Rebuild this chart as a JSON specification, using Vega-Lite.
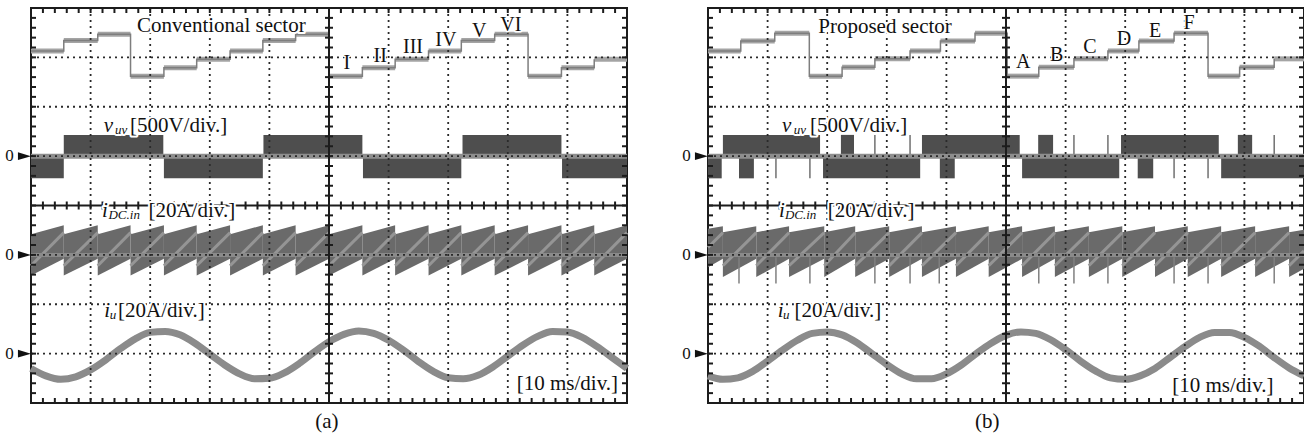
{
"$schema":"https://vega.github.io/schema/vega-lite/v6.json",
"background":"white",
"padding":{"left":4,"top":3,"right":0,"bottom":0},
"bounds":"flush",
"spacing":81,
"config":{"view":{"stroke":"#1c1c1c","strokeWidth":2}},
"datasets":{
"one":[{"z":0}],
"gx":[{"v":1},{"v":2},{"v":3},{"v":4},{"v":6},{"v":7},{"v":8},{"v":9}],
"gy":[{"v":1},{"v":2},{"v":3},{"v":5},{"v":6},{"v":7}],
"tk":[
{"x":0.2,"y":0,"o":"b"},{"x":0.4,"y":0,"o":"b"},{"x":0.6,"y":0,"o":"b"},{"x":0.8,"y":0,"o":"b"},{"x":1,"y":0,"o":"b"},{"x":1.2,"y":0,"o":"b"},{"x":1.4,"y":0,"o":"b"},{"x":1.6,"y":0,"o":"b"},{"x":1.8,"y":0,"o":"b"},{"x":2,"y":0,"o":"b"},{"x":2.2,"y":0,"o":"b"},{"x":2.4,"y":0,"o":"b"},{"x":2.6,"y":0,"o":"b"},{"x":2.8,"y":0,"o":"b"},{"x":3,"y":0,"o":"b"},{"x":3.2,"y":0,"o":"b"},{"x":3.4,"y":0,"o":"b"},{"x":3.6,"y":0,"o":"b"},{"x":3.8,"y":0,"o":"b"},{"x":4,"y":0,"o":"b"},{"x":4.2,"y":0,"o":"b"},{"x":4.4,"y":0,"o":"b"},{"x":4.6,"y":0,"o":"b"},{"x":4.8,"y":0,"o":"b"},{"x":5,"y":0,"o":"b"},{"x":5.2,"y":0,"o":"b"},{"x":5.4,"y":0,"o":"b"},{"x":5.6,"y":0,"o":"b"},{"x":5.8,"y":0,"o":"b"},{"x":6,"y":0,"o":"b"},{"x":6.2,"y":0,"o":"b"},{"x":6.4,"y":0,"o":"b"},{"x":6.6,"y":0,"o":"b"},{"x":6.8,"y":0,"o":"b"},{"x":7,"y":0,"o":"b"},{"x":7.2,"y":0,"o":"b"},{"x":7.4,"y":0,"o":"b"},{"x":7.6,"y":0,"o":"b"},{"x":7.8,"y":0,"o":"b"},{"x":8,"y":0,"o":"b"},{"x":8.2,"y":0,"o":"b"},{"x":8.4,"y":0,"o":"b"},{"x":8.6,"y":0,"o":"b"},{"x":8.8,"y":0,"o":"b"},{"x":9,"y":0,"o":"b"},{"x":9.2,"y":0,"o":"b"},{"x":9.4,"y":0,"o":"b"},{"x":9.6,"y":0,"o":"b"},{"x":9.8,"y":0,"o":"b"},
{"x":0.2,"y":8,"o":"t"},{"x":0.4,"y":8,"o":"t"},{"x":0.6,"y":8,"o":"t"},{"x":0.8,"y":8,"o":"t"},{"x":1,"y":8,"o":"t"},{"x":1.2,"y":8,"o":"t"},{"x":1.4,"y":8,"o":"t"},{"x":1.6,"y":8,"o":"t"},{"x":1.8,"y":8,"o":"t"},{"x":2,"y":8,"o":"t"},{"x":2.2,"y":8,"o":"t"},{"x":2.4,"y":8,"o":"t"},{"x":2.6,"y":8,"o":"t"},{"x":2.8,"y":8,"o":"t"},{"x":3,"y":8,"o":"t"},{"x":3.2,"y":8,"o":"t"},{"x":3.4,"y":8,"o":"t"},{"x":3.6,"y":8,"o":"t"},{"x":3.8,"y":8,"o":"t"},{"x":4,"y":8,"o":"t"},{"x":4.2,"y":8,"o":"t"},{"x":4.4,"y":8,"o":"t"},{"x":4.6,"y":8,"o":"t"},{"x":4.8,"y":8,"o":"t"},{"x":5,"y":8,"o":"t"},{"x":5.2,"y":8,"o":"t"},{"x":5.4,"y":8,"o":"t"},{"x":5.6,"y":8,"o":"t"},{"x":5.8,"y":8,"o":"t"},{"x":6,"y":8,"o":"t"},{"x":6.2,"y":8,"o":"t"},{"x":6.4,"y":8,"o":"t"},{"x":6.6,"y":8,"o":"t"},{"x":6.8,"y":8,"o":"t"},{"x":7,"y":8,"o":"t"},{"x":7.2,"y":8,"o":"t"},{"x":7.4,"y":8,"o":"t"},{"x":7.6,"y":8,"o":"t"},{"x":7.8,"y":8,"o":"t"},{"x":8,"y":8,"o":"t"},{"x":8.2,"y":8,"o":"t"},{"x":8.4,"y":8,"o":"t"},{"x":8.6,"y":8,"o":"t"},{"x":8.8,"y":8,"o":"t"},{"x":9,"y":8,"o":"t"},{"x":9.2,"y":8,"o":"t"},{"x":9.4,"y":8,"o":"t"},{"x":9.6,"y":8,"o":"t"},{"x":9.8,"y":8,"o":"t"},
{"x":0.2,"y":4,"o":"c"},{"x":0.4,"y":4,"o":"c"},{"x":0.6,"y":4,"o":"c"},{"x":0.8,"y":4,"o":"c"},{"x":1,"y":4,"o":"c"},{"x":1.2,"y":4,"o":"c"},{"x":1.4,"y":4,"o":"c"},{"x":1.6,"y":4,"o":"c"},{"x":1.8,"y":4,"o":"c"},{"x":2,"y":4,"o":"c"},{"x":2.2,"y":4,"o":"c"},{"x":2.4,"y":4,"o":"c"},{"x":2.6,"y":4,"o":"c"},{"x":2.8,"y":4,"o":"c"},{"x":3,"y":4,"o":"c"},{"x":3.2,"y":4,"o":"c"},{"x":3.4,"y":4,"o":"c"},{"x":3.6,"y":4,"o":"c"},{"x":3.8,"y":4,"o":"c"},{"x":4,"y":4,"o":"c"},{"x":4.2,"y":4,"o":"c"},{"x":4.4,"y":4,"o":"c"},{"x":4.6,"y":4,"o":"c"},{"x":4.8,"y":4,"o":"c"},{"x":5.2,"y":4,"o":"c"},{"x":5.4,"y":4,"o":"c"},{"x":5.6,"y":4,"o":"c"},{"x":5.8,"y":4,"o":"c"},{"x":6,"y":4,"o":"c"},{"x":6.2,"y":4,"o":"c"},{"x":6.4,"y":4,"o":"c"},{"x":6.6,"y":4,"o":"c"},{"x":6.8,"y":4,"o":"c"},{"x":7,"y":4,"o":"c"},{"x":7.2,"y":4,"o":"c"},{"x":7.4,"y":4,"o":"c"},{"x":7.6,"y":4,"o":"c"},{"x":7.8,"y":4,"o":"c"},{"x":8,"y":4,"o":"c"},{"x":8.2,"y":4,"o":"c"},{"x":8.4,"y":4,"o":"c"},{"x":8.6,"y":4,"o":"c"},{"x":8.8,"y":4,"o":"c"},{"x":9,"y":4,"o":"c"},{"x":9.2,"y":4,"o":"c"},{"x":9.4,"y":4,"o":"c"},{"x":9.6,"y":4,"o":"c"},{"x":9.8,"y":4,"o":"c"},
{"x":0,"y":0.2,"o":"l"},{"x":0,"y":0.4,"o":"l"},{"x":0,"y":0.6,"o":"l"},{"x":0,"y":0.8,"o":"l"},{"x":0,"y":1,"o":"l"},{"x":0,"y":1.2,"o":"l"},{"x":0,"y":1.4,"o":"l"},{"x":0,"y":1.6,"o":"l"},{"x":0,"y":1.8,"o":"l"},{"x":0,"y":2,"o":"l"},{"x":0,"y":2.2,"o":"l"},{"x":0,"y":2.4,"o":"l"},{"x":0,"y":2.6,"o":"l"},{"x":0,"y":2.8,"o":"l"},{"x":0,"y":3,"o":"l"},{"x":0,"y":3.2,"o":"l"},{"x":0,"y":3.4,"o":"l"},{"x":0,"y":3.6,"o":"l"},{"x":0,"y":3.8,"o":"l"},{"x":0,"y":4,"o":"l"},{"x":0,"y":4.2,"o":"l"},{"x":0,"y":4.4,"o":"l"},{"x":0,"y":4.6,"o":"l"},{"x":0,"y":4.8,"o":"l"},{"x":0,"y":5,"o":"l"},{"x":0,"y":5.2,"o":"l"},{"x":0,"y":5.4,"o":"l"},{"x":0,"y":5.6,"o":"l"},{"x":0,"y":5.8,"o":"l"},{"x":0,"y":6,"o":"l"},{"x":0,"y":6.2,"o":"l"},{"x":0,"y":6.4,"o":"l"},{"x":0,"y":6.6,"o":"l"},{"x":0,"y":6.8,"o":"l"},{"x":0,"y":7,"o":"l"},{"x":0,"y":7.2,"o":"l"},{"x":0,"y":7.4,"o":"l"},{"x":0,"y":7.6,"o":"l"},{"x":0,"y":7.8,"o":"l"},
{"x":10,"y":0.2,"o":"r"},{"x":10,"y":0.4,"o":"r"},{"x":10,"y":0.6,"o":"r"},{"x":10,"y":0.8,"o":"r"},{"x":10,"y":1,"o":"r"},{"x":10,"y":1.2,"o":"r"},{"x":10,"y":1.4,"o":"r"},{"x":10,"y":1.6,"o":"r"},{"x":10,"y":1.8,"o":"r"},{"x":10,"y":2,"o":"r"},{"x":10,"y":2.2,"o":"r"},{"x":10,"y":2.4,"o":"r"},{"x":10,"y":2.6,"o":"r"},{"x":10,"y":2.8,"o":"r"},{"x":10,"y":3,"o":"r"},{"x":10,"y":3.2,"o":"r"},{"x":10,"y":3.4,"o":"r"},{"x":10,"y":3.6,"o":"r"},{"x":10,"y":3.8,"o":"r"},{"x":10,"y":4,"o":"r"},{"x":10,"y":4.2,"o":"r"},{"x":10,"y":4.4,"o":"r"},{"x":10,"y":4.6,"o":"r"},{"x":10,"y":4.8,"o":"r"},{"x":10,"y":5,"o":"r"},{"x":10,"y":5.2,"o":"r"},{"x":10,"y":5.4,"o":"r"},{"x":10,"y":5.6,"o":"r"},{"x":10,"y":5.8,"o":"r"},{"x":10,"y":6,"o":"r"},{"x":10,"y":6.2,"o":"r"},{"x":10,"y":6.4,"o":"r"},{"x":10,"y":6.6,"o":"r"},{"x":10,"y":6.8,"o":"r"},{"x":10,"y":7,"o":"r"},{"x":10,"y":7.2,"o":"r"},{"x":10,"y":7.4,"o":"r"},{"x":10,"y":7.6,"o":"r"},{"x":10,"y":7.8,"o":"r"},
{"x":5,"y":0.2,"o":"m"},{"x":5,"y":0.4,"o":"m"},{"x":5,"y":0.6,"o":"m"},{"x":5,"y":0.8,"o":"m"},{"x":5,"y":1,"o":"m"},{"x":5,"y":1.2,"o":"m"},{"x":5,"y":1.4,"o":"m"},{"x":5,"y":1.6,"o":"m"},{"x":5,"y":1.8,"o":"m"},{"x":5,"y":2,"o":"m"},{"x":5,"y":2.2,"o":"m"},{"x":5,"y":2.4,"o":"m"},{"x":5,"y":2.6,"o":"m"},{"x":5,"y":2.8,"o":"m"},{"x":5,"y":3,"o":"m"},{"x":5,"y":3.2,"o":"m"},{"x":5,"y":3.4,"o":"m"},{"x":5,"y":3.6,"o":"m"},{"x":5,"y":3.8,"o":"m"},{"x":5,"y":4.2,"o":"m"},{"x":5,"y":4.4,"o":"m"},{"x":5,"y":4.6,"o":"m"},{"x":5,"y":4.8,"o":"m"},{"x":5,"y":5,"o":"m"},{"x":5,"y":5.2,"o":"m"},{"x":5,"y":5.4,"o":"m"},{"x":5,"y":5.6,"o":"m"},{"x":5,"y":5.8,"o":"m"},{"x":5,"y":6,"o":"m"},{"x":5,"y":6.2,"o":"m"},{"x":5,"y":6.4,"o":"m"},{"x":5,"y":6.6,"o":"m"},{"x":5,"y":6.8,"o":"m"},{"x":5,"y":7,"o":"m"},{"x":5,"y":7.2,"o":"m"},{"x":5,"y":7.4,"o":"m"},{"x":5,"y":7.6,"o":"m"},{"x":5,"y":7.8,"o":"m"}],
"zm":[{"y":5,"xt":-0.36,"xa":-0.11},{"y":3,"xt":-0.36,"xa":-0.11},{"y":1,"xt":-0.36,"xa":-0.11}],
"sec":[
{"p":"a","x":0,"x2":0.55,"y":7.13},{"p":"a","x":0.55,"x2":1.12,"y":7.34},{"p":"a","x":1.12,"x2":1.67,"y":7.47},{"p":"a","x":1.67,"x2":2.23,"y":6.62},{"p":"a","x":2.23,"x2":2.78,"y":6.79},{"p":"a","x":2.78,"x2":3.34,"y":6.96},{"p":"a","x":3.34,"x2":3.89,"y":7.13},{"p":"a","x":3.89,"x2":4.44,"y":7.34},{"p":"a","x":4.44,"x2":5.0,"y":7.47},{"p":"a","x":5.0,"x2":5.56,"y":6.62},{"p":"a","x":5.56,"x2":6.11,"y":6.79},{"p":"a","x":6.11,"x2":6.67,"y":6.96},{"p":"a","x":6.67,"x2":7.22,"y":7.13},{"p":"a","x":7.22,"x2":7.78,"y":7.34},{"p":"a","x":7.78,"x2":8.34,"y":7.47},{"p":"a","x":8.34,"x2":8.9,"y":6.62},{"p":"a","x":8.9,"x2":9.45,"y":6.79},{"p":"a","x":9.45,"x2":10,"y":6.96},
{"p":"b","x":0,"x2":0.55,"y":7.13},{"p":"b","x":0.55,"x2":1.12,"y":7.33},{"p":"b","x":1.12,"x2":1.7,"y":7.49},{"p":"b","x":1.7,"x2":2.25,"y":6.62},{"p":"b","x":2.25,"x2":2.8,"y":6.8},{"p":"b","x":2.8,"x2":3.39,"y":6.97},{"p":"b","x":3.39,"x2":3.9,"y":7.13},{"p":"b","x":3.9,"x2":4.48,"y":7.33},{"p":"b","x":4.48,"x2":5.02,"y":7.49},{"p":"b","x":5.02,"x2":5.55,"y":6.62},{"p":"b","x":5.55,"x2":6.14,"y":6.8},{"p":"b","x":6.14,"x2":6.71,"y":6.97},{"p":"b","x":6.71,"x2":7.23,"y":7.13},{"p":"b","x":7.23,"x2":7.82,"y":7.33},{"p":"b","x":7.82,"x2":8.39,"y":7.49},{"p":"b","x":8.39,"x2":8.92,"y":6.62},{"p":"b","x":8.92,"x2":9.5,"y":6.8},{"p":"b","x":9.5,"x2":10,"y":6.97}],
"vuv":[
{"p":"a","x":0.55,"x2":2.22,"y":5.0,"y2":5.43},{"p":"a","x":3.9,"x2":5.56,"y":5.0,"y2":5.43},{"p":"a","x":7.24,"x2":8.9,"y":5.0,"y2":5.43},
{"p":"a","x":0,"x2":0.55,"y":4.55,"y2":5.0},{"p":"a","x":2.23,"x2":3.89,"y":4.55,"y2":5.0},{"p":"a","x":5.57,"x2":7.22,"y":4.55,"y2":5.0},{"p":"a","x":8.91,"x2":10,"y":4.55,"y2":5.0},
{"p":"b","x":0.25,"x2":1.88,"y":5.0,"y2":5.43},{"p":"b","x":2.23,"x2":2.45,"y":5.0,"y2":5.43},{"p":"b","x":3.59,"x2":5.23,"y":5.0,"y2":5.43},{"p":"b","x":5.54,"x2":5.79,"y":5.0,"y2":5.43},{"p":"b","x":6.93,"x2":8.57,"y":5.0,"y2":5.43},{"p":"b","x":8.89,"x2":9.13,"y":5.0,"y2":5.43},
{"p":"b","x":0,"x2":0.23,"y":4.55,"y2":5.0},{"p":"b","x":0.52,"x2":0.77,"y":4.55,"y2":5.0},{"p":"b","x":1.93,"x2":3.56,"y":4.55,"y2":5.0},{"p":"b","x":3.89,"x2":4.14,"y":4.55,"y2":5.0},{"p":"b","x":5.27,"x2":6.9,"y":4.55,"y2":5.0},{"p":"b","x":7.21,"x2":7.47,"y":4.55,"y2":5.0},{"p":"b","x":8.61,"x2":10,"y":4.55,"y2":5.0}],
"vsp":[
{"p":"b","x":2.8,"y":5.0,"y2":5.43},{"p":"b","x":3.39,"y":5.0,"y2":5.43},{"p":"b","x":6.14,"y":5.0,"y2":5.43},{"p":"b","x":6.71,"y":5.0,"y2":5.43},{"p":"b","x":9.5,"y":5.0,"y2":5.43},
{"p":"b","x":1.14,"y":4.55,"y2":5.0},{"p":"b","x":1.71,"y":4.55,"y2":5.0},{"p":"b","x":7.82,"y":4.55,"y2":5.0},{"p":"b","x":8.39,"y":4.55,"y2":5.0}],
"isp":[
{"p":"b","x":0.52,"y":2.42,"y2":2.95},{"p":"b","x":1.14,"y":2.42,"y2":2.95},{"p":"b","x":1.71,"y":2.42,"y2":2.95},{"p":"b","x":2.8,"y":2.42,"y2":2.95},{"p":"b","x":3.39,"y":2.42,"y2":2.95},{"p":"b","x":3.88,"y":2.42,"y2":2.95},{"p":"b","x":5.55,"y":2.42,"y2":2.95},{"p":"b","x":6.14,"y":2.42,"y2":2.95},{"p":"b","x":6.71,"y":2.42,"y2":2.95},{"p":"b","x":7.82,"y":2.42,"y2":2.95},{"p":"b","x":8.39,"y":2.42,"y2":2.95},{"p":"b","x":9.5,"y":2.42,"y2":2.95}],
"idc":[
{"p":"a","k":0,"x":0,"t":3.42,"b":2.58,"d":2.78},{"p":"a","k":0,"x":0.55,"t":3.6,"b":2.92,"d":3.45},
{"p":"a","k":1,"x":0.55,"t":3.42,"b":2.58,"d":2.78},{"p":"a","k":1,"x":1.12,"t":3.6,"b":2.92,"d":3.45},
{"p":"a","k":2,"x":1.12,"t":3.42,"b":2.58,"d":2.78},{"p":"a","k":2,"x":1.67,"t":3.6,"b":2.92,"d":3.45},
{"p":"a","k":3,"x":1.67,"t":3.42,"b":2.58,"d":2.78},{"p":"a","k":3,"x":2.23,"t":3.6,"b":2.92,"d":3.45},
{"p":"a","k":4,"x":2.23,"t":3.42,"b":2.58,"d":2.78},{"p":"a","k":4,"x":2.78,"t":3.6,"b":2.92,"d":3.45},
{"p":"a","k":5,"x":2.78,"t":3.42,"b":2.58,"d":2.78},{"p":"a","k":5,"x":3.34,"t":3.6,"b":2.92,"d":3.45},
{"p":"a","k":6,"x":3.34,"t":3.42,"b":2.58,"d":2.78},{"p":"a","k":6,"x":3.89,"t":3.6,"b":2.92,"d":3.45},
{"p":"a","k":7,"x":3.89,"t":3.42,"b":2.58,"d":2.78},{"p":"a","k":7,"x":4.44,"t":3.6,"b":2.92,"d":3.45},
{"p":"a","k":8,"x":4.44,"t":3.42,"b":2.58,"d":2.78},{"p":"a","k":8,"x":5.0,"t":3.6,"b":2.92,"d":3.45},
{"p":"a","k":9,"x":5.0,"t":3.42,"b":2.58,"d":2.78},{"p":"a","k":9,"x":5.56,"t":3.6,"b":2.92,"d":3.45},
{"p":"a","k":10,"x":5.56,"t":3.42,"b":2.58,"d":2.78},{"p":"a","k":10,"x":6.11,"t":3.6,"b":2.92,"d":3.45},
{"p":"a","k":11,"x":6.11,"t":3.42,"b":2.58,"d":2.78},{"p":"a","k":11,"x":6.67,"t":3.6,"b":2.92,"d":3.45},
{"p":"a","k":12,"x":6.67,"t":3.42,"b":2.58,"d":2.78},{"p":"a","k":12,"x":7.22,"t":3.6,"b":2.92,"d":3.45},
{"p":"a","k":13,"x":7.22,"t":3.42,"b":2.58,"d":2.78},{"p":"a","k":13,"x":7.78,"t":3.6,"b":2.92,"d":3.45},
{"p":"a","k":14,"x":7.78,"t":3.42,"b":2.58,"d":2.78},{"p":"a","k":14,"x":8.34,"t":3.6,"b":2.92,"d":3.45},
{"p":"a","k":15,"x":8.34,"t":3.42,"b":2.58,"d":2.78},{"p":"a","k":15,"x":8.9,"t":3.6,"b":2.92,"d":3.45},
{"p":"a","k":16,"x":8.9,"t":3.42,"b":2.58,"d":2.78},{"p":"a","k":16,"x":9.45,"t":3.6,"b":2.92,"d":3.45},
{"p":"a","k":17,"x":9.45,"t":3.42,"b":2.58,"d":2.78},{"p":"a","k":17,"x":10,"t":3.6,"b":2.92,"d":3.45},
{"p":"b","k":0,"x":0,"t":3.53,"b":2.75,"d":3.15},{"p":"b","k":0,"x":0.25,"t":3.58,"b":2.92,"d":3.45},
{"p":"b","k":1,"x":0.25,"t":3.46,"b":2.55,"d":2.78},{"p":"b","k":1,"x":0.81,"t":3.58,"b":2.92,"d":3.45},
{"p":"b","k":2,"x":0.81,"t":3.46,"b":2.55,"d":2.78},{"p":"b","k":2,"x":1.36,"t":3.58,"b":2.92,"d":3.45},
{"p":"b","k":3,"x":1.36,"t":3.46,"b":2.55,"d":2.78},{"p":"b","k":3,"x":1.95,"t":3.58,"b":2.92,"d":3.45},
{"p":"b","k":4,"x":1.95,"t":3.46,"b":2.55,"d":2.78},{"p":"b","k":4,"x":2.47,"t":3.58,"b":2.92,"d":3.45},
{"p":"b","k":5,"x":2.47,"t":3.46,"b":2.55,"d":2.78},{"p":"b","k":5,"x":3.04,"t":3.58,"b":2.92,"d":3.45},
{"p":"b","k":6,"x":3.04,"t":3.46,"b":2.55,"d":2.78},{"p":"b","k":6,"x":3.59,"t":3.58,"b":2.92,"d":3.45},
{"p":"b","k":7,"x":3.59,"t":3.46,"b":2.55,"d":2.78},{"p":"b","k":7,"x":4.16,"t":3.58,"b":2.92,"d":3.45},
{"p":"b","k":8,"x":4.16,"t":3.46,"b":2.55,"d":2.78},{"p":"b","k":8,"x":4.71,"t":3.58,"b":2.92,"d":3.45},
{"p":"b","k":9,"x":4.71,"t":3.46,"b":2.55,"d":2.78},{"p":"b","k":9,"x":5.27,"t":3.58,"b":2.92,"d":3.45},
{"p":"b","k":10,"x":5.27,"t":3.46,"b":2.55,"d":2.78},{"p":"b","k":10,"x":5.82,"t":3.58,"b":2.92,"d":3.45},
{"p":"b","k":11,"x":5.82,"t":3.46,"b":2.55,"d":2.78},{"p":"b","k":11,"x":6.39,"t":3.58,"b":2.92,"d":3.45},
{"p":"b","k":12,"x":6.39,"t":3.46,"b":2.55,"d":2.78},{"p":"b","k":12,"x":6.95,"t":3.58,"b":2.92,"d":3.45},
{"p":"b","k":13,"x":6.95,"t":3.46,"b":2.55,"d":2.78},{"p":"b","k":13,"x":7.5,"t":3.58,"b":2.92,"d":3.45},
{"p":"b","k":14,"x":7.5,"t":3.46,"b":2.55,"d":2.78},{"p":"b","k":14,"x":8.05,"t":3.58,"b":2.92,"d":3.45},
{"p":"b","k":15,"x":8.05,"t":3.46,"b":2.55,"d":2.78},{"p":"b","k":15,"x":8.61,"t":3.58,"b":2.92,"d":3.45},
{"p":"b","k":16,"x":8.61,"t":3.46,"b":2.55,"d":2.78},{"p":"b","k":16,"x":9.18,"t":3.58,"b":2.92,"d":3.45},
{"p":"b","k":17,"x":9.18,"t":3.46,"b":2.55,"d":2.78},{"p":"b","k":17,"x":9.75,"t":3.58,"b":2.92,"d":3.45},
{"p":"b","k":18,"x":9.75,"t":3.46,"b":2.55,"d":2.78},{"p":"b","k":18,"x":10,"t":3.51,"b":2.72,"d":3.08}],
"iu":[
{"p":"a","x":0,"y":0.70},{"p":"a","x":0.25,"y":0.55},{"p":"a","x":0.5,"y":0.48},{"p":"a","x":0.75,"y":0.53},{"p":"a","x":1,"y":0.67},{"p":"a","x":1.25,"y":0.87},{"p":"a","x":1.5,"y":1.10},{"p":"a","x":1.75,"y":1.30},{"p":"a","x":2,"y":1.43},{"p":"a","x":2.25,"y":1.45},{"p":"a","x":2.5,"y":1.38},{"p":"a","x":2.75,"y":1.21},{"p":"a","x":3,"y":0.99},{"p":"a","x":3.25,"y":0.77},{"p":"a","x":3.5,"y":0.59},{"p":"a","x":3.75,"y":0.49},{"p":"a","x":4,"y":0.50},{"p":"a","x":4.25,"y":0.61},{"p":"a","x":4.5,"y":0.80},{"p":"a","x":4.75,"y":1.03},{"p":"a","x":5,"y":1.24},{"p":"a","x":5.25,"y":1.39},{"p":"a","x":5.5,"y":1.46},{"p":"a","x":5.75,"y":1.41},{"p":"a","x":6,"y":1.27},{"p":"a","x":6.25,"y":1.07},{"p":"a","x":6.5,"y":0.84},{"p":"a","x":6.75,"y":0.64},{"p":"a","x":7,"y":0.51},{"p":"a","x":7.25,"y":0.49},{"p":"a","x":7.5,"y":0.56},{"p":"a","x":7.75,"y":0.73},{"p":"a","x":8,"y":0.95},{"p":"a","x":8.25,"y":1.17},{"p":"a","x":8.5,"y":1.35},{"p":"a","x":8.75,"y":1.45},{"p":"a","x":9,"y":1.44},{"p":"a","x":9.25,"y":1.33},{"p":"a","x":9.5,"y":1.14},{"p":"a","x":9.75,"y":0.92},{"p":"a","x":10,"y":0.70},
{"p":"b","x":0,"y":0.55},{"p":"b","x":0.25,"y":0.48},{"p":"b","x":0.5,"y":0.51},{"p":"b","x":0.75,"y":0.64},{"p":"b","x":1,"y":0.85},{"p":"b","x":1.25,"y":1.07},{"p":"b","x":1.5,"y":1.27},{"p":"b","x":1.75,"y":1.41},{"p":"b","x":2,"y":1.44},{"p":"b","x":2.25,"y":1.38},{"p":"b","x":2.5,"y":1.22},{"p":"b","x":2.75,"y":1.00},{"p":"b","x":3,"y":0.78},{"p":"b","x":3.25,"y":0.59},{"p":"b","x":3.5,"y":0.49},{"p":"b","x":3.75,"y":0.49},{"p":"b","x":4,"y":0.59},{"p":"b","x":4.25,"y":0.77},{"p":"b","x":4.5,"y":1.00},{"p":"b","x":4.75,"y":1.21},{"p":"b","x":5,"y":1.37},{"p":"b","x":5.25,"y":1.44},{"p":"b","x":5.5,"y":1.41},{"p":"b","x":5.75,"y":1.28},{"p":"b","x":6,"y":1.08},{"p":"b","x":6.25,"y":0.85},{"p":"b","x":6.5,"y":0.65},{"p":"b","x":6.75,"y":0.51},{"p":"b","x":7,"y":0.48},{"p":"b","x":7.25,"y":0.55},{"p":"b","x":7.5,"y":0.70},{"p":"b","x":7.75,"y":0.92},{"p":"b","x":8,"y":1.14},{"p":"b","x":8.25,"y":1.33},{"p":"b","x":8.5,"y":1.43},{"p":"b","x":8.75,"y":1.43},{"p":"b","x":9,"y":1.33},{"p":"b","x":9.25,"y":1.15},{"p":"b","x":9.5,"y":0.92},{"p":"b","x":9.75,"y":0.71},{"p":"b","x":10,"y":0.55}],
"txt":[
{"p":"a","s":"r","t":"Conventional sector","x":1.78,"y":7.51},
{"p":"a","s":"r","t":"[500V/div.]","x":1.66,"y":5.49},
{"p":"a","s":"r","t":"[20A/div.]","x":1.97,"y":3.76},
{"p":"a","s":"r","t":"[20A/div.]","x":1.46,"y":1.75},
{"p":"a","s":"r","t":"[10 ms/div.]","x":8.15,"y":0.26},
{"p":"a","s":"r","t":"(a)","x":4.77,"y":-0.51},
{"p":"a","s":"i","t":"v","x":1.22,"y":5.49},
{"p":"a","s":"i","t":"i","x":1.19,"y":3.76},
{"p":"a","s":"i","t":"i","x":1.23,"y":1.75},
{"p":"a","s":"s","t":"uv","x":1.41,"y":5.45},
{"p":"a","s":"s","t":"DC.in","x":1.3,"y":3.72},
{"p":"a","s":"s","t":"u","x":1.32,"y":1.71},
{"p":"a","s":"c","t":"I","x":5.3,"y":6.76},
{"p":"a","s":"c","t":"II","x":5.86,"y":6.91},
{"p":"a","s":"c","t":"III","x":6.41,"y":7.09},
{"p":"a","s":"c","t":"IV","x":6.96,"y":7.23},
{"p":"a","s":"c","t":"V","x":7.52,"y":7.41},
{"p":"a","s":"c","t":"VI","x":8.05,"y":7.53},
{"p":"b","s":"r","t":"Proposed sector","x":1.85,"y":7.49},
{"p":"b","s":"r","t":"[500V/div.]","x":1.71,"y":5.49},
{"p":"b","s":"r","t":"[20A/div.]","x":2.01,"y":3.76},
{"p":"b","s":"r","t":"[20A/div.]","x":1.45,"y":1.75},
{"p":"b","s":"r","t":"[10 ms/div.]","x":7.79,"y":0.23},
{"p":"b","s":"r","t":"(b)","x":4.48,"y":-0.51},
{"p":"b","s":"i","t":"v","x":1.24,"y":5.49},
{"p":"b","s":"i","t":"i","x":1.19,"y":3.76},
{"p":"b","s":"i","t":"i","x":1.17,"y":1.75},
{"p":"b","s":"s","t":"uv","x":1.44,"y":5.45},
{"p":"b","s":"s","t":"DC.in","x":1.29,"y":3.72},
{"p":"b","s":"s","t":"u","x":1.26,"y":1.71},
{"p":"b","s":"c","t":"A","x":5.29,"y":6.78},
{"p":"b","s":"c","t":"B","x":5.85,"y":6.93},
{"p":"b","s":"c","t":"C","x":6.41,"y":7.08},
{"p":"b","s":"c","t":"D","x":6.98,"y":7.25},
{"p":"b","s":"c","t":"E","x":7.5,"y":7.42},
{"p":"b","s":"c","t":"F","x":8.07,"y":7.57}]
},
"hconcat":[
{"width":596,"height":395,"layer":[
{"data":{"name":"sec"},"transform":[{"filter":"datum.p=='a'"}],"mark":{"type":"rule","color":"#a4a4a4","strokeWidth":5},"encoding":{"x":{"field":"x","type":"quantitative","scale":{"domain":[0,10]},"axis":null},"x2":{"field":"x2"},"y":{"field":"y","type":"quantitative","scale":{"domain":[0,8]},"axis":null}}},
{"data":{"name":"sec"},"transform":[{"filter":"datum.p=='a'"}],"mark":{"type":"line","interpolate":"step-after","color":"#7e7e7e","strokeWidth":1.5},"encoding":{"x":{"field":"x","type":"quantitative","scale":{"domain":[0,10]},"axis":null},"y":{"field":"y","type":"quantitative","scale":{"domain":[0,8]},"axis":null}}},
{"data":{"name":"vuv"},"transform":[{"filter":"datum.p=='a'"}],"mark":{"type":"rect","color":"#4e4e4e"},"encoding":{"x":{"field":"x","type":"quantitative","scale":{"domain":[0,10]},"axis":null},"x2":{"field":"x2"},"y":{"field":"y","type":"quantitative","scale":{"domain":[0,8]},"axis":null},"y2":{"field":"y2"}}},
{"data":{"name":"one"},"mark":{"type":"rule","color":"#8e8e8e","strokeWidth":5},"encoding":{"y":{"datum":5,"type":"quantitative","scale":{"domain":[0,8]},"axis":null}}},
{"data":{"name":"idc"},"transform":[{"filter":"datum.p=='a'"}],"mark":{"type":"area","color":"#6a6a6a","opacity":1},"encoding":{"x":{"field":"x","type":"quantitative","scale":{"domain":[0,10]},"axis":null},"y":{"field":"t","type":"quantitative","scale":{"domain":[0,8]},"axis":null},"y2":{"field":"b"},"detail":{"field":"k","type":"nominal"}}},
{"data":{"name":"idc"},"transform":[{"filter":"datum.p=='a'"}],"mark":{"type":"line","color":"#959595","strokeWidth":3},"encoding":{"x":{"field":"x","type":"quantitative","scale":{"domain":[0,10]},"axis":null},"y":{"field":"d","type":"quantitative","scale":{"domain":[0,8]},"axis":null},"detail":{"field":"k","type":"nominal"}}},
{"data":{"name":"one"},"mark":{"type":"rule","color":"#8a8a8a","strokeWidth":4},"encoding":{"y":{"datum":3,"type":"quantitative","scale":{"domain":[0,8]},"axis":null}}},
{"data":{"name":"iu"},"transform":[{"filter":"datum.p=='a'"}],"mark":{"type":"line","color":"#8b8b8b","strokeWidth":7,"interpolate":"monotone"},"encoding":{"x":{"field":"x","type":"quantitative","scale":{"domain":[0,10]},"axis":null},"y":{"field":"y","type":"quantitative","scale":{"domain":[0,8]},"axis":null}}},
{"data":{"name":"gx"},"mark":{"type":"rule","color":"#2a2a2a","strokeWidth":1.8,"strokeDash":[2,4]},"encoding":{"x":{"field":"v","type":"quantitative","scale":{"domain":[0,10]},"axis":null}}},
{"data":{"name":"gy"},"mark":{"type":"rule","color":"#2a2a2a","strokeWidth":1.8,"strokeDash":[2,4]},"encoding":{"y":{"field":"v","type":"quantitative","scale":{"domain":[0,8]},"axis":null}}},
{"data":{"name":"one"},"mark":{"type":"rule","color":"#1c1c1c","strokeWidth":2},"encoding":{"x":{"datum":5,"type":"quantitative","scale":{"domain":[0,10]},"axis":null}}},
{"data":{"name":"one"},"mark":{"type":"rule","color":"#1c1c1c","strokeWidth":2},"encoding":{"y":{"datum":4,"type":"quantitative","scale":{"domain":[0,8]},"axis":null}}},
{"data":{"name":"tk"},"mark":{"type":"point","filled":false,"strokeWidth":2,"color":"#1c1c1c","opacity":1,"size":100},"encoding":{"x":{"field":"x","type":"quantitative","scale":{"domain":[0,10]},"axis":null},"y":{"field":"y","type":"quantitative","scale":{"domain":[0,8]},"axis":null},"shape":{"field":"o","type":"nominal","scale":{"domain":["b","t","c","l","r","m"],"range":["M0,0L0,-1","M0,0L0,1","M0,-0.8L0,0.8","M0,0L1,0","M0,0L-1,0","M-0.8,0L0.8,0"]},"legend":null}}},
{"data":{"name":"txt"},"transform":[{"filter":"datum.p=='a'&&datum.s=='r'"}],"mark":{"type":"text","font":"Liberation Serif","fontSize":21,"align":"left","baseline":"alphabetic","fill":"white","stroke":"white","strokeWidth":4,"strokeJoin":"round"},"encoding":{"x":{"field":"x","type":"quantitative","scale":{"domain":[0,10]},"axis":null},"y":{"field":"y","type":"quantitative","scale":{"domain":[0,8]},"axis":null},"text":{"field":"t","type":"nominal"}}},
{"data":{"name":"txt"},"transform":[{"filter":"datum.p=='a'&&datum.s=='i'"}],"mark":{"type":"text","font":"Liberation Serif","fontStyle":"italic","fontSize":21,"align":"left","baseline":"alphabetic","fill":"white","stroke":"white","strokeWidth":4,"strokeJoin":"round"},"encoding":{"x":{"field":"x","type":"quantitative","scale":{"domain":[0,10]},"axis":null},"y":{"field":"y","type":"quantitative","scale":{"domain":[0,8]},"axis":null},"text":{"field":"t","type":"nominal"}}},
{"data":{"name":"txt"},"transform":[{"filter":"datum.p=='a'&&datum.s=='s'"}],"mark":{"type":"text","font":"Liberation Serif","fontStyle":"italic","fontSize":13,"align":"left","baseline":"alphabetic","fill":"white","stroke":"white","strokeWidth":4,"strokeJoin":"round"},"encoding":{"x":{"field":"x","type":"quantitative","scale":{"domain":[0,10]},"axis":null},"y":{"field":"y","type":"quantitative","scale":{"domain":[0,8]},"axis":null},"text":{"field":"t","type":"nominal"}}},
{"data":{"name":"txt"},"transform":[{"filter":"datum.p=='a'&&datum.s=='c'"}],"mark":{"type":"text","font":"Liberation Serif","fontSize":20,"align":"center","baseline":"alphabetic","fill":"white","stroke":"white","strokeWidth":3,"strokeJoin":"round"},"encoding":{"x":{"field":"x","type":"quantitative","scale":{"domain":[0,10]},"axis":null},"y":{"field":"y","type":"quantitative","scale":{"domain":[0,8]},"axis":null},"text":{"field":"t","type":"nominal"}}},
{"data":{"name":"txt"},"transform":[{"filter":"datum.p=='a'&&datum.s=='r'"}],"mark":{"type":"text","font":"Liberation Serif","fontSize":21,"align":"left","baseline":"alphabetic","fill":"#111111"},"encoding":{"x":{"field":"x","type":"quantitative","scale":{"domain":[0,10]},"axis":null},"y":{"field":"y","type":"quantitative","scale":{"domain":[0,8]},"axis":null},"text":{"field":"t","type":"nominal"}}},
{"data":{"name":"txt"},"transform":[{"filter":"datum.p=='a'&&datum.s=='i'"}],"mark":{"type":"text","font":"Liberation Serif","fontStyle":"italic","fontSize":21,"align":"left","baseline":"alphabetic","fill":"#111111"},"encoding":{"x":{"field":"x","type":"quantitative","scale":{"domain":[0,10]},"axis":null},"y":{"field":"y","type":"quantitative","scale":{"domain":[0,8]},"axis":null},"text":{"field":"t","type":"nominal"}}},
{"data":{"name":"txt"},"transform":[{"filter":"datum.p=='a'&&datum.s=='s'"}],"mark":{"type":"text","font":"Liberation Serif","fontStyle":"italic","fontSize":13,"align":"left","baseline":"alphabetic","fill":"#111111"},"encoding":{"x":{"field":"x","type":"quantitative","scale":{"domain":[0,10]},"axis":null},"y":{"field":"y","type":"quantitative","scale":{"domain":[0,8]},"axis":null},"text":{"field":"t","type":"nominal"}}},
{"data":{"name":"txt"},"transform":[{"filter":"datum.p=='a'&&datum.s=='c'"}],"mark":{"type":"text","font":"Liberation Serif","fontSize":20,"align":"center","baseline":"alphabetic","fill":"#111111"},"encoding":{"x":{"field":"x","type":"quantitative","scale":{"domain":[0,10]},"axis":null},"y":{"field":"y","type":"quantitative","scale":{"domain":[0,8]},"axis":null},"text":{"field":"t","type":"nominal"}}},
{"data":{"name":"zm"},"mark":{"type":"text","font":"Liberation Serif","fontSize":17,"align":"center","baseline":"middle","fill":"#111111"},"encoding":{"x":{"field":"xt","type":"quantitative","scale":{"domain":[0,10]},"axis":null},"y":{"field":"y","type":"quantitative","scale":{"domain":[0,8]},"axis":null},"text":{"value":"0"}}},
{"data":{"name":"zm"},"mark":{"type":"point","shape":"M-1,-0.6L1,0L-1,0.6Z","size":169,"filled":true,"color":"#111111","opacity":1},"encoding":{"x":{"field":"xa","type":"quantitative","scale":{"domain":[0,10]},"axis":null},"y":{"field":"y","type":"quantitative","scale":{"domain":[0,8]},"axis":null}}}
]},
{"width":596,"height":395,"layer":[
{"data":{"name":"sec"},"transform":[{"filter":"datum.p=='b'"}],"mark":{"type":"rule","color":"#a4a4a4","strokeWidth":5},"encoding":{"x":{"field":"x","type":"quantitative","scale":{"domain":[0,10]},"axis":null},"x2":{"field":"x2"},"y":{"field":"y","type":"quantitative","scale":{"domain":[0,8]},"axis":null}}},
{"data":{"name":"sec"},"transform":[{"filter":"datum.p=='b'"}],"mark":{"type":"line","interpolate":"step-after","color":"#7e7e7e","strokeWidth":1.5},"encoding":{"x":{"field":"x","type":"quantitative","scale":{"domain":[0,10]},"axis":null},"y":{"field":"y","type":"quantitative","scale":{"domain":[0,8]},"axis":null}}},
{"data":{"name":"vuv"},"transform":[{"filter":"datum.p=='b'"}],"mark":{"type":"rect","color":"#4e4e4e"},"encoding":{"x":{"field":"x","type":"quantitative","scale":{"domain":[0,10]},"axis":null},"x2":{"field":"x2"},"y":{"field":"y","type":"quantitative","scale":{"domain":[0,8]},"axis":null},"y2":{"field":"y2"}}},
{"data":{"name":"vsp"},"transform":[{"filter":"datum.p=='b'"}],"mark":{"type":"rule","color":"#707070","strokeWidth":1.5},"encoding":{"x":{"field":"x","type":"quantitative","scale":{"domain":[0,10]},"axis":null},"y":{"field":"y","type":"quantitative","scale":{"domain":[0,8]},"axis":null},"y2":{"field":"y2"}}},
{"data":{"name":"one"},"mark":{"type":"rule","color":"#8e8e8e","strokeWidth":5},"encoding":{"y":{"datum":5,"type":"quantitative","scale":{"domain":[0,8]},"axis":null}}},
{"data":{"name":"idc"},"transform":[{"filter":"datum.p=='b'"}],"mark":{"type":"area","color":"#6a6a6a","opacity":1},"encoding":{"x":{"field":"x","type":"quantitative","scale":{"domain":[0,10]},"axis":null},"y":{"field":"t","type":"quantitative","scale":{"domain":[0,8]},"axis":null},"y2":{"field":"b"},"detail":{"field":"k","type":"nominal"}}},
{"data":{"name":"idc"},"transform":[{"filter":"datum.p=='b'"}],"mark":{"type":"line","color":"#959595","strokeWidth":3},"encoding":{"x":{"field":"x","type":"quantitative","scale":{"domain":[0,10]},"axis":null},"y":{"field":"d","type":"quantitative","scale":{"domain":[0,8]},"axis":null},"detail":{"field":"k","type":"nominal"}}},
{"data":{"name":"isp"},"transform":[{"filter":"datum.p=='b'"}],"mark":{"type":"rule","color":"#808080","strokeWidth":1.5},"encoding":{"x":{"field":"x","type":"quantitative","scale":{"domain":[0,10]},"axis":null},"y":{"field":"y","type":"quantitative","scale":{"domain":[0,8]},"axis":null},"y2":{"field":"y2"}}},
{"data":{"name":"one"},"mark":{"type":"rule","color":"#8a8a8a","strokeWidth":4},"encoding":{"y":{"datum":3,"type":"quantitative","scale":{"domain":[0,8]},"axis":null}}},
{"data":{"name":"iu"},"transform":[{"filter":"datum.p=='b'"}],"mark":{"type":"line","color":"#8b8b8b","strokeWidth":7,"interpolate":"monotone"},"encoding":{"x":{"field":"x","type":"quantitative","scale":{"domain":[0,10]},"axis":null},"y":{"field":"y","type":"quantitative","scale":{"domain":[0,8]},"axis":null}}},
{"data":{"name":"gx"},"mark":{"type":"rule","color":"#2a2a2a","strokeWidth":1.8,"strokeDash":[2,4]},"encoding":{"x":{"field":"v","type":"quantitative","scale":{"domain":[0,10]},"axis":null}}},
{"data":{"name":"gy"},"mark":{"type":"rule","color":"#2a2a2a","strokeWidth":1.8,"strokeDash":[2,4]},"encoding":{"y":{"field":"v","type":"quantitative","scale":{"domain":[0,8]},"axis":null}}},
{"data":{"name":"one"},"mark":{"type":"rule","color":"#1c1c1c","strokeWidth":2},"encoding":{"x":{"datum":5,"type":"quantitative","scale":{"domain":[0,10]},"axis":null}}},
{"data":{"name":"one"},"mark":{"type":"rule","color":"#1c1c1c","strokeWidth":2},"encoding":{"y":{"datum":4,"type":"quantitative","scale":{"domain":[0,8]},"axis":null}}},
{"data":{"name":"tk"},"mark":{"type":"point","filled":false,"strokeWidth":2,"color":"#1c1c1c","opacity":1,"size":100},"encoding":{"x":{"field":"x","type":"quantitative","scale":{"domain":[0,10]},"axis":null},"y":{"field":"y","type":"quantitative","scale":{"domain":[0,8]},"axis":null},"shape":{"field":"o","type":"nominal","scale":{"domain":["b","t","c","l","r","m"],"range":["M0,0L0,-1","M0,0L0,1","M0,-0.8L0,0.8","M0,0L1,0","M0,0L-1,0","M-0.8,0L0.8,0"]},"legend":null}}},
{"data":{"name":"txt"},"transform":[{"filter":"datum.p=='b'&&datum.s=='r'"}],"mark":{"type":"text","font":"Liberation Serif","fontSize":21,"align":"left","baseline":"alphabetic","fill":"white","stroke":"white","strokeWidth":4,"strokeJoin":"round"},"encoding":{"x":{"field":"x","type":"quantitative","scale":{"domain":[0,10]},"axis":null},"y":{"field":"y","type":"quantitative","scale":{"domain":[0,8]},"axis":null},"text":{"field":"t","type":"nominal"}}},
{"data":{"name":"txt"},"transform":[{"filter":"datum.p=='b'&&datum.s=='i'"}],"mark":{"type":"text","font":"Liberation Serif","fontStyle":"italic","fontSize":21,"align":"left","baseline":"alphabetic","fill":"white","stroke":"white","strokeWidth":4,"strokeJoin":"round"},"encoding":{"x":{"field":"x","type":"quantitative","scale":{"domain":[0,10]},"axis":null},"y":{"field":"y","type":"quantitative","scale":{"domain":[0,8]},"axis":null},"text":{"field":"t","type":"nominal"}}},
{"data":{"name":"txt"},"transform":[{"filter":"datum.p=='b'&&datum.s=='s'"}],"mark":{"type":"text","font":"Liberation Serif","fontStyle":"italic","fontSize":13,"align":"left","baseline":"alphabetic","fill":"white","stroke":"white","strokeWidth":4,"strokeJoin":"round"},"encoding":{"x":{"field":"x","type":"quantitative","scale":{"domain":[0,10]},"axis":null},"y":{"field":"y","type":"quantitative","scale":{"domain":[0,8]},"axis":null},"text":{"field":"t","type":"nominal"}}},
{"data":{"name":"txt"},"transform":[{"filter":"datum.p=='b'&&datum.s=='c'"}],"mark":{"type":"text","font":"Liberation Serif","fontSize":20,"align":"center","baseline":"alphabetic","fill":"white","stroke":"white","strokeWidth":3,"strokeJoin":"round"},"encoding":{"x":{"field":"x","type":"quantitative","scale":{"domain":[0,10]},"axis":null},"y":{"field":"y","type":"quantitative","scale":{"domain":[0,8]},"axis":null},"text":{"field":"t","type":"nominal"}}},
{"data":{"name":"txt"},"transform":[{"filter":"datum.p=='b'&&datum.s=='r'"}],"mark":{"type":"text","font":"Liberation Serif","fontSize":21,"align":"left","baseline":"alphabetic","fill":"#111111"},"encoding":{"x":{"field":"x","type":"quantitative","scale":{"domain":[0,10]},"axis":null},"y":{"field":"y","type":"quantitative","scale":{"domain":[0,8]},"axis":null},"text":{"field":"t","type":"nominal"}}},
{"data":{"name":"txt"},"transform":[{"filter":"datum.p=='b'&&datum.s=='i'"}],"mark":{"type":"text","font":"Liberation Serif","fontStyle":"italic","fontSize":21,"align":"left","baseline":"alphabetic","fill":"#111111"},"encoding":{"x":{"field":"x","type":"quantitative","scale":{"domain":[0,10]},"axis":null},"y":{"field":"y","type":"quantitative","scale":{"domain":[0,8]},"axis":null},"text":{"field":"t","type":"nominal"}}},
{"data":{"name":"txt"},"transform":[{"filter":"datum.p=='b'&&datum.s=='s'"}],"mark":{"type":"text","font":"Liberation Serif","fontStyle":"italic","fontSize":13,"align":"left","baseline":"alphabetic","fill":"#111111"},"encoding":{"x":{"field":"x","type":"quantitative","scale":{"domain":[0,10]},"axis":null},"y":{"field":"y","type":"quantitative","scale":{"domain":[0,8]},"axis":null},"text":{"field":"t","type":"nominal"}}},
{"data":{"name":"txt"},"transform":[{"filter":"datum.p=='b'&&datum.s=='c'"}],"mark":{"type":"text","font":"Liberation Serif","fontSize":20,"align":"center","baseline":"alphabetic","fill":"#111111"},"encoding":{"x":{"field":"x","type":"quantitative","scale":{"domain":[0,10]},"axis":null},"y":{"field":"y","type":"quantitative","scale":{"domain":[0,8]},"axis":null},"text":{"field":"t","type":"nominal"}}},
{"data":{"name":"zm"},"mark":{"type":"text","font":"Liberation Serif","fontSize":17,"align":"center","baseline":"middle","fill":"#111111"},"encoding":{"x":{"field":"xt","type":"quantitative","scale":{"domain":[0,10]},"axis":null},"y":{"field":"y","type":"quantitative","scale":{"domain":[0,8]},"axis":null},"text":{"value":"0"}}},
{"data":{"name":"zm"},"mark":{"type":"point","shape":"M-1,-0.6L1,0L-1,0.6Z","size":169,"filled":true,"color":"#111111","opacity":1},"encoding":{"x":{"field":"xa","type":"quantitative","scale":{"domain":[0,10]},"axis":null},"y":{"field":"y","type":"quantitative","scale":{"domain":[0,8]},"axis":null}}}
]}
]
}
